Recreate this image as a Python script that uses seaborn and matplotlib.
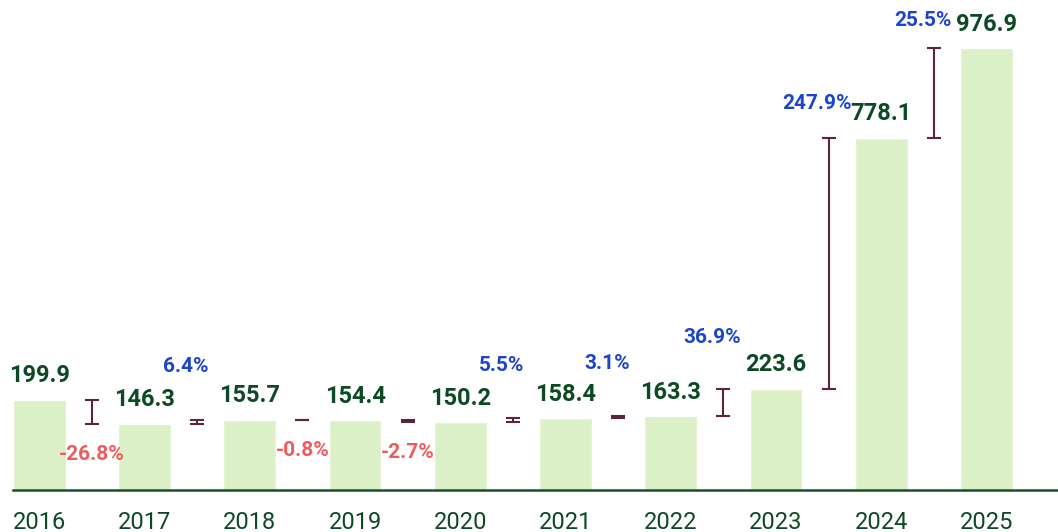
import numpy as np
import pandas as pd
import matplotlib
matplotlib.use("Agg")
import matplotlib.pyplot as plt
import seaborn as sns

# Chart data
years = ["2016", "2017", "2018", "2019", "2020", "2021", "2022", "2023", "2024", "2025"]
values = [199.9, 146.3, 155.7, 154.4, 150.2, 158.4, 163.3, 223.6, 778.1, 976.9]
changes = [-26.8, 6.4, -0.8, -2.7, 5.5, 3.1, 36.9, 247.9, 25.5]

bar_color = "#dcf0c8"
value_color = "#0d4a24"
pos_color = "#1c45c9"
neg_color = "#ef5b5b"
err_color = "#5e2535"

sns.set_style("white")
plt.rcParams["font.family"] = ["Roboto", "DejaVu Sans"]

df = pd.DataFrame({"year": years, "value": values})

fig = plt.figure(figsize=(10.58, 5.32), dpi=100)
ax = fig.add_axes([13 / 1058, 42 / 532, 1 - 13 / 1058, 490 / 532])

sns.barplot(data=df, x="year", y="value", color=bar_color, width=0.5,
            saturation=1, ax=ax)

# value labels above bars
for i, v in enumerate(values):
    ax.annotate(f"{v:.1f}", (i, v), xytext=(0, 9), textcoords="offset points",
                ha="center", va="bottom", fontsize=17, fontweight="bold",
                color=value_color)

# change markers between bars
vmax = max(values)
for i, c in enumerate(changes):
    lo, hi = sorted([values[i], values[i + 1]])
    x = i + 0.5
    ax.errorbar(x, (lo + hi) / 2, yerr=(hi - lo) / 2, fmt="none",
                ecolor=err_color, elinewidth=1.5, capsize=5, capthick=1.5)
    if c >= 0:
        # lift small-change labels a bit more so they clear the value labels
        dy = (58 - 30 * hi / vmax) / 1.389
        ax.annotate(f"{c:.1f}%", (x, hi), xytext=(-8, dy), textcoords="offset points",
                    ha="center", va="center", fontsize=15, fontweight="bold",
                    color=pos_color)
    else:
        ax.annotate(f"{c:.1f}%", (x, lo), xytext=(0, -15), textcoords="offset points",
                    ha="center", va="top", fontsize=15, fontweight="bold",
                    color=neg_color)

ax.set_xlim(-0.25, 9.68)
ax.set_ylim(0, 1083)
ax.set_xlabel("")
ax.set_ylabel("")
ax.set_yticks([])
for s in ["top", "left", "right"]:
    ax.spines[s].set_visible(False)
ax.spines["bottom"].set_color("#1e4d2b")
ax.spines["bottom"].set_linewidth(1.8)
ax.tick_params(axis="x", length=0, pad=15, labelsize=17, labelcolor=value_color)

fig.savefig("out.png", dpi=100)
